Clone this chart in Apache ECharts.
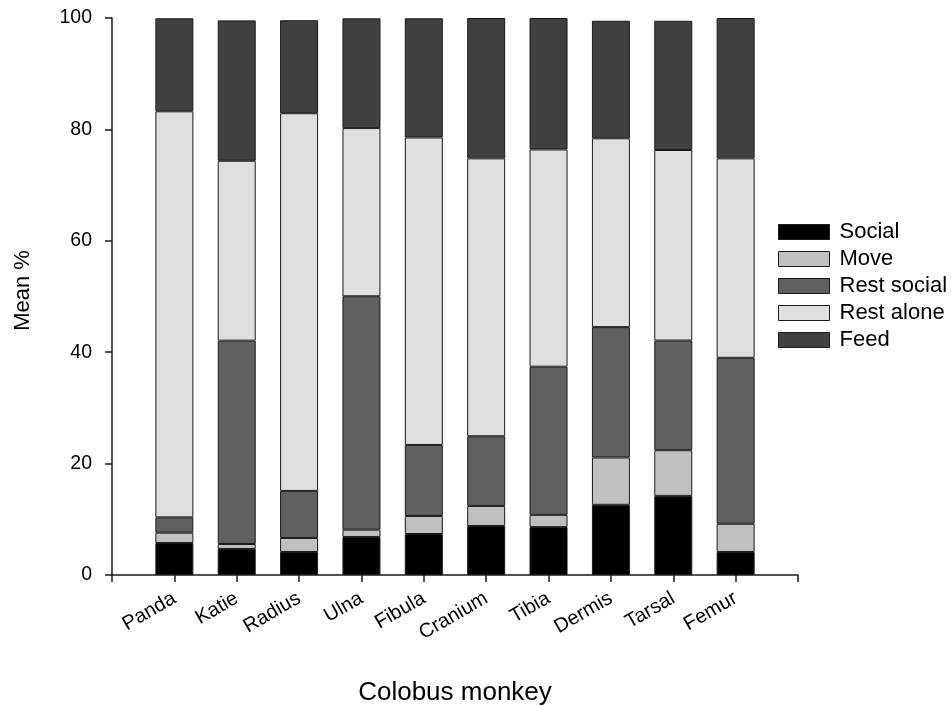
<!DOCTYPE html>
<html>
<head>
<meta charset="utf-8">
<title>Colobus monkey activity budget</title>
<script src="https://cdn.jsdelivr.net/npm/echarts@6/dist/echarts.min.js"></script>
<style>
  html, body { margin: 0; padding: 0; background: #fff; }
  #chart { width: 951px; height: 706px; }
</style>
</head>
<body>
<div id="chart"></div>
<script>
// Individuals on the x axis
const monkeys = ['Panda', 'Katie', 'Radius', 'Ulna', 'Fibula', 'Cranium', 'Tibia', 'Dermis', 'Tarsal', 'Femur'];

// Mean % of observation time per activity, one value per individual
const social     = [5.75, 4.67, 4.13, 6.83, 7.36, 8.8, 8.6, 12.6, 14.2, 4.13];
const move       = [1.85, 0.9, 2.52, 1.31, 3.24, 3.6, 2.2, 8.5, 8.2, 5.07];
const restSocial = [2.75, 36.5, 8.45, 41.9, 12.75, 12.5, 26.6, 23.4, 19.7, 29.8];
const restAlone  = [72.9, 32.3, 67.8, 30.2, 55.2, 49.9, 39.0, 33.9, 34.2, 35.8];
const feed       = [16.7, 25.2, 16.7, 19.7, 21.4, 25.2, 23.6, 21.1, 23.2, 25.2];

const yTicks = [0, 20, 40, 60, 80, 100];

const FONT = '"Liberation Sans", Arial, sans-serif';

const activities = [
  { name: 'Social',      values: social,     color: '#000000' },
  { name: 'Move',        values: move,       color: '#c0c0c0' },
  { name: 'Rest social', values: restSocial, color: '#606060' },
  { name: 'Rest alone',  values: restAlone,  color: '#dfdfdf' },
  { name: 'Feed',        values: feed,       color: '#404040' }
];

// The axis carries an empty slot at each end, so the individuals sit on slots 1..n
const xSlots = [''].concat(monkeys, ['']);

const series = activities.map(a => ({
  name: a.name,
  type: 'bar',
  stack: 'total',
  barWidth: 38,
  itemStyle: { color: a.color, borderColor: '#1a1a1a', borderWidth: 1 },
  emphasis: { disabled: true },
  data: a.values.map((v, i) => [i + 1, v])
}));

const chart = echarts.init(document.getElementById('chart'), null, { renderer: 'canvas' });
chart.setOption({
  animation: false,
  backgroundColor: '#ffffff',
  grid: { left: 112, right: 153, top: 18, bottom: 131, outerBoundsMode: 'none', containLabel: false },
  legend: {
    orient: 'vertical',
    left: 778,
    top: 221,
    padding: 0,
    itemWidth: 51,
    itemHeight: 15,
    itemGap: 5,
    selectedMode: false,
    icon: 'rect',
    itemStyle: { borderColor: '#1a1a1a', borderWidth: 1 },
    textStyle: { fontFamily: FONT, fontSize: 22, color: '#000', padding: [0, 0, 0, 5] },
    data: activities.map(a => a.name)
  },
  xAxis: {
    type: 'category',
    data: xSlots,
    boundaryGap: false,
    name: 'Colobus monkey',
    nameLocation: 'middle',
    nameGap: 105,
    nameTextStyle: { fontFamily: FONT, fontSize: 26, color: '#000' },
    axisLine: { show: true, lineStyle: { color: '#1a1a1a', width: 1.5 } },
    axisTick: { show: true, inside: false, length: 7, interval: 0, lineStyle: { color: '#1a1a1a', width: 1.5 } },
    splitLine: { show: false },
    axisLabel: {
      rotate: 30,
      margin: 22,
      interval: 0,
      fontFamily: FONT,
      fontSize: 20,
      color: '#000'
    }
  },
  yAxis: {
    type: 'value',
    min: yTicks[0],
    max: yTicks[yTicks.length - 1],
    interval: yTicks[1] - yTicks[0],
    name: 'Mean %',
    nameLocation: 'middle',
    nameGap: 78,
    nameTextStyle: { fontFamily: FONT, fontSize: 22, color: '#000', padding: [0, 0, 0, 12] },
    axisLine: { show: true, lineStyle: { color: '#1a1a1a', width: 1.5 } },
    axisTick: { show: true, inside: false, length: 7, lineStyle: { color: '#1a1a1a', width: 1.5 } },
    splitLine: { show: false },
    axisLabel: { margin: 20, fontFamily: FONT, fontSize: 19.5, color: '#000' }
  },
  series: series
});
</script>
</body>
</html>
